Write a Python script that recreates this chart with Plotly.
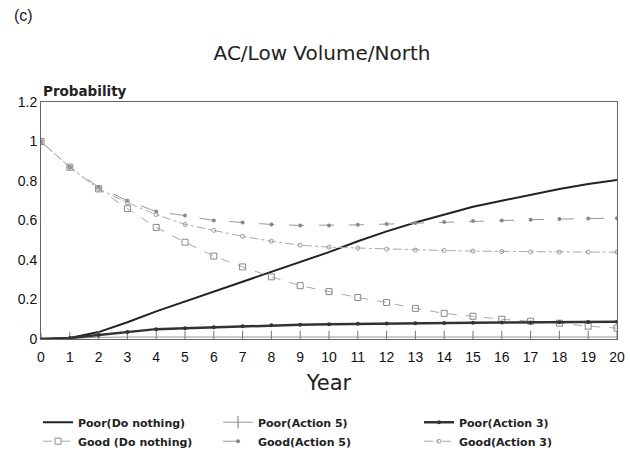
import plotly.graph_objects as go

years = list(range(21))
poor_do_nothing = [0, 0.005, 0.035, 0.085, 0.14, 0.19, 0.24, 0.29, 0.34, 0.39, 0.44,
                   0.495, 0.545, 0.59, 0.63, 0.67, 0.70, 0.73, 0.76, 0.785, 0.805]
poor_action5 = [0, 0.005, 0.008, 0.01, 0.01, 0.01, 0.01, 0.01, 0.01, 0.01, 0.01,
                0.01, 0.01, 0.01, 0.01, 0.01, 0.01, 0.01, 0.01, 0.01, 0.01]
poor_action3 = [0, 0.005, 0.02, 0.035, 0.05, 0.055, 0.06, 0.065, 0.07, 0.072, 0.075,
                0.077, 0.078, 0.08, 0.081, 0.082, 0.083, 0.084, 0.085, 0.086, 0.087]
good_do_nothing = [1, 0.87, 0.76, 0.66, 0.565, 0.49, 0.42, 0.365, 0.315, 0.27, 0.24,
                   0.21, 0.185, 0.155, 0.13, 0.115, 0.10, 0.09, 0.08, 0.065, 0.055]
good_action5 = [1, 0.87, 0.77, 0.70, 0.645, 0.625, 0.60, 0.59, 0.58, 0.575, 0.575,
                0.578, 0.582, 0.587, 0.592, 0.597, 0.60, 0.604, 0.607, 0.61, 0.612]
good_action3 = [1, 0.87, 0.76, 0.69, 0.63, 0.58, 0.55, 0.52, 0.495, 0.475, 0.465,
                0.46, 0.455, 0.45, 0.448, 0.445, 0.443, 0.441, 0.44, 0.44, 0.44]

FONT = "Liberation Sans"
WIDE = "DejaVu Sans"
TXT = "#222"
fig = go.Figure()
fig.add_trace(go.Scatter(x=years, y=poor_do_nothing, name="Poor(Do nothing)", legend="legend",
                         mode="lines", line=dict(color="#222", width=2)))
fig.add_trace(go.Scatter(x=years, y=good_do_nothing, name="Good (Do nothing)", legend="legend",
                         mode="lines+markers", line=dict(color="#aaa", width=1, dash="dash"),
                         marker=dict(symbol="square-open", size=6, color="#888")))
fig.add_trace(go.Scatter(x=years, y=poor_action5, name="Poor(Action 5)", legend="legend2",
                         mode="lines+markers", line=dict(color="#999", width=1),
                         marker=dict(symbol="line-ns", size=9, line=dict(color="#777", width=1))))
fig.add_trace(go.Scatter(x=years, y=good_action5, name="Good(Action 5)", legend="legend2",
                         mode="lines+markers", line=dict(color="#999", width=1, dash="longdash"),
                         marker=dict(symbol="circle", size=4, color="#888")))
fig.add_trace(go.Scatter(x=years, y=poor_action3, name="Poor(Action 3)", legend="legend3",
                         mode="lines+markers", line=dict(color="#333", width=2.5),
                         marker=dict(symbol="circle", size=4, color="#333")))
fig.add_trace(go.Scatter(x=years, y=good_action3, name="Good(Action 3)", legend="legend3",
                         mode="lines+markers", line=dict(color="#aaa", width=1, dash="dashdot"),
                         marker=dict(symbol="circle-open", size=4, color="#999")))

plot_h = 457 - 102 - 118
plot_w = 630 - 41 - 13

def px_x(px):
    return (px - 41) / plot_w

leg_font = dict(size=11, family=WIDE, color=TXT, weight="bold")
leg_common = dict(orientation="v", xanchor="left", y=-0.29, yanchor="top",
                  tracegroupgap=0, font=leg_font, itemwidth=30, bgcolor="rgba(0,0,0,0)")

fig.update_layout(
    width=630, height=457,
    margin=dict(l=41, r=13, t=102, b=118, autoexpand=False),
    paper_bgcolor="white", plot_bgcolor="white",
    font=dict(family=FONT, color=TXT, size=12),
    title=dict(text="AC/Low Volume/North", xref="container", x=322 / 630, xanchor="center",
               y=0.885, yanchor="middle",
               font=dict(size=20, family=WIDE, color=TXT)),
    xaxis=dict(range=[0, 20], dtick=1, tick0=0, showgrid=False, zeroline=False,
               showline=True, linecolor="#666", linewidth=1, mirror=True,
               ticks="", ticklabelstandoff=5,
               tickfont=dict(size=14, family=FONT, color="#111"),
               title=dict(text="Year", font=dict(size=21, family=WIDE, color=TXT), standoff=11)),
    yaxis=dict(range=[0, 1.2], dtick=0.2, tick0=0, showgrid=False, zeroline=False,
               showline=True, linecolor="#666", linewidth=1, mirror=True,
               ticks="", tickfont=dict(size=14, family=FONT, color="#111")),
    showlegend=True,
    legend=dict(x=px_x(38), **leg_common),
    legend2=dict(x=px_x(218), **leg_common),
    legend3=dict(x=px_x(419), **leg_common),
    annotations=[
        dict(text="Probability", x=px_x(41), xref="paper", xanchor="left",
             y=(339 - 91) / plot_h, yref="paper", yanchor="middle",
             showarrow=False, font=dict(size=13.5, family=WIDE, color=TXT, weight="bold")),
        dict(text="(c)", x=px_x(12), xref="paper", xanchor="left",
             y=(339 - 15) / plot_h, yref="paper", yanchor="middle",
             showarrow=False, font=dict(size=16, family=FONT, color=TXT)),
    ],
)
fig.write_html("out.html")
